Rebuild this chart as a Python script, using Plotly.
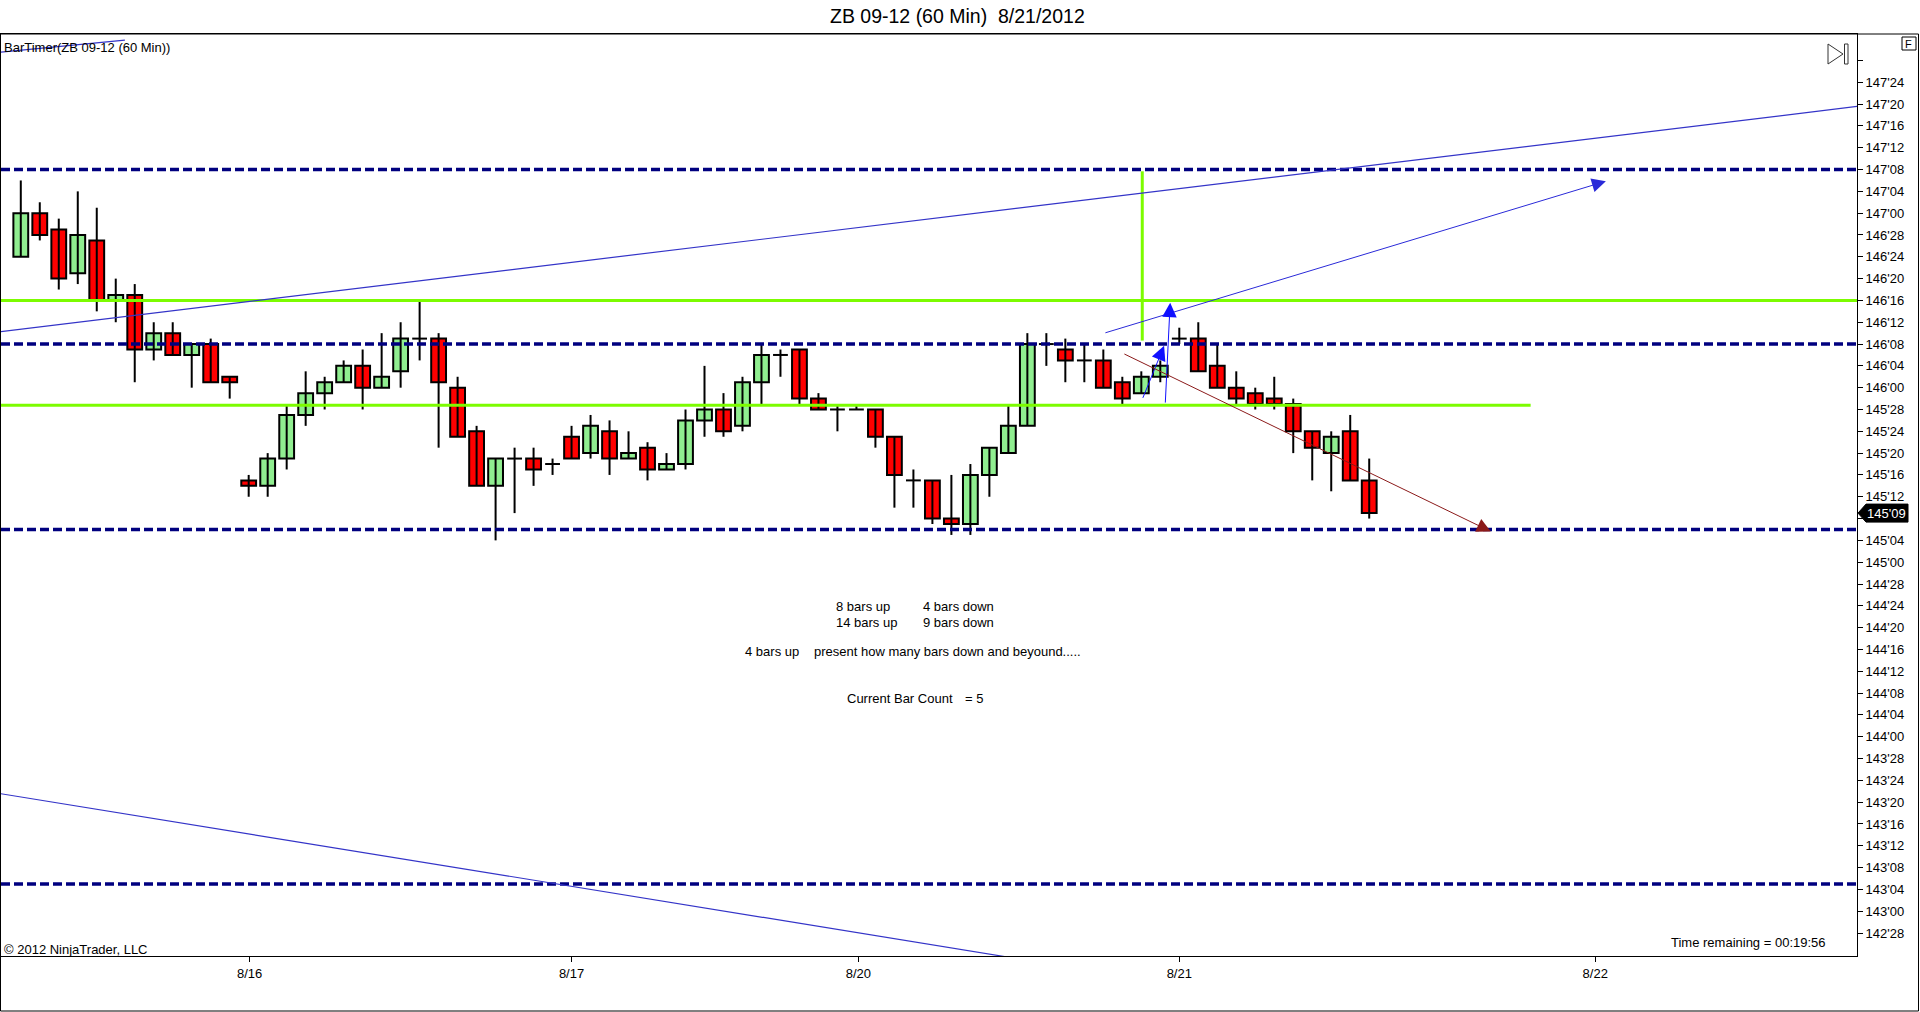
import plotly.graph_objects as go

# ---------------- data (hourly bars, ZB 09-12) ----------------
opens = [146.75, 147.0, 146.90625, 146.65625, 146.84375, 146.5, 146.53125, 146.21875, 146.3125, 146.1875,
         146.25, 146.0625, 145.46875, 145.4375, 145.59375, 145.84375, 145.96875, 146.03125, 146.125, 146.0,
         146.09375, 146.28125, 146.28125, 146.0, 145.75, 145.4375, 145.59375, 145.59375, 145.5625, 145.71875,
         145.625, 145.75, 145.59375, 145.65625, 145.53125, 145.5625, 145.8125, 145.875, 145.78125, 146.03125,
         146.1875, 146.21875, 145.9375, 145.875, 145.875, 145.875, 145.71875, 145.46875, 145.46875, 145.25,
         145.21875, 145.5, 145.625, 145.78125, 146.25, 146.21875, 146.15625, 146.15625, 146.03125, 145.96875,
         146.0625, 146.28125, 146.28125, 146.125, 146.0, 145.96875, 145.9375, 145.90625, 145.75, 145.625,
         145.75, 145.46875]
highs = [147.1875, 147.0625, 146.96875, 147.125, 147.03125, 146.625, 146.59375, 146.375, 146.375, 146.25,
         146.28125, 146.0625, 145.5, 145.625, 145.90625, 146.09375, 146.0625, 146.15625, 146.21875, 146.3125,
         146.375, 146.5, 146.3125, 146.0625, 145.78125, 145.59375, 145.65625, 145.65625, 145.59375, 145.78125,
         145.84375, 145.8125, 145.75, 145.6875, 145.625, 145.875, 146.125, 145.96875, 146.0625, 146.25,
         146.21875, 146.21875, 145.96875, 145.90625, 145.90625, 145.875, 145.71875, 145.53125, 145.46875, 145.5,
         145.5625, 145.65625, 145.90625, 146.3125, 146.3125, 146.28125, 146.25, 146.21875, 146.0625, 146.09375,
         146.15625, 146.34375, 146.375, 146.25, 146.09375, 146.0, 146.0625, 145.9375, 145.75, 145.75,
         145.84375, 145.59375]
lows = [146.75, 146.84375, 146.5625, 146.59375, 146.4375, 146.375, 146.03125, 146.15625, 146.1875, 146.0,
        146.03125, 145.9375, 145.375, 145.375, 145.53125, 145.78125, 145.875, 146.03125, 145.875, 146.0,
        146.0, 146.15625, 145.65625, 145.71875, 145.4375, 145.125, 145.28125, 145.4375, 145.5, 145.59375,
        145.59375, 145.5, 145.59375, 145.46875, 145.53125, 145.53125, 145.71875, 145.71875, 145.75, 145.90625,
        146.0625, 145.90625, 145.875, 145.75, 145.875, 145.65625, 145.3125, 145.3125, 145.21875, 145.15625,
        145.15625, 145.375, 145.625, 145.78125, 146.125, 146.03125, 146.03125, 146.0, 145.90625, 145.96875,
        146.03125, 146.25, 146.09375, 146.0, 145.90625, 145.875, 145.875, 145.625, 145.46875, 145.40625,
        145.46875, 145.25]
closes = [147.0, 146.875, 146.625, 146.875, 146.5, 146.53125, 146.21875, 146.3125, 146.1875, 146.25,
          146.03125, 146.03125, 145.4375, 145.59375, 145.84375, 145.96875, 146.03125, 146.125, 146.0, 146.0625,
          146.28125, 146.28125, 146.03125, 145.71875, 145.4375, 145.59375, 145.59375, 145.53125, 145.5625, 145.59375,
          145.78125, 145.59375, 145.625, 145.53125, 145.5625, 145.8125, 145.875, 145.75, 146.03125, 146.1875,
          146.1875, 145.9375, 145.875, 145.875, 145.875, 145.71875, 145.5, 145.46875, 145.25, 145.21875,
          145.5, 145.65625, 145.78125, 146.25, 146.25, 146.15625, 146.15625, 146.0, 145.9375, 146.0625,
          146.125, 146.28125, 146.09375, 146.0, 145.9375, 145.90625, 145.90625, 145.75, 145.65625, 145.71875,
          145.46875, 145.28125]

date_ticks = [12.05, 29.0, 44.1, 61.0, 82.9]
date_labels = ["8/16", "8/17", "8/20", "8/21", "8/22"]

# drawn objects (bar index, price)
dashed_levels = [147.25, 146.25, 145.1875, 143.15625]
green_levels = [146.5, 145.90]
green_level_ends = [None, 79.5]
green_vert_x = 59.05
green_vert_y = [146.27, 147.24]
trend_lines = [
    ([-1.1, 96.8], [146.321, 147.613]),
    ([-1.1, 51.8], [143.674, 142.740]),
    ([-1.1, 5.48], [147.922, 147.992]),
]
arrows = [
    ((57.03, 146.312), (83.46, 147.183), "#2a2ad8", 1.0, 2.8),
    ((59.05, 145.933), (60.20, 146.240), "#1010ff", 1.0, 2.9),
    ((60.26, 145.906), (60.52, 146.487), "#1010ff", 1.0, 2.9),
    ((58.03, 146.197), (77.40, 145.176), "#8b1a1a", 1.0, 2.8),
]

# ---------------- geometry ----------------
W, H = 1920, 1012
PL, PR, PT, PB = 1, 1857, 34, 956
XR = [-1.042, 96.684]
YR = [142.7432, 148.0268]
FONT = "Arial, Liberation Sans, sans-serif"


def X(px):
    return (px - PL) / (PR - PL)


def Y(py):
    return (PB - py) / (PB - PT)


def price_paper(p):
    return (p - YR[0]) / (YR[1] - YR[0])


def fmt(p):
    w = int(p // 1)
    n = int(round((p - w) * 32))
    if n == 32:
        w, n = w + 1, 0
    return f"{w}'{n:02d}"


idx = list(range(len(opens)))
fig = go.Figure()

# wicks
wx, wy = [], []
for i in idx:
    wx += [i, i, None]
    wy += [lows[i], highs[i], None]
fig.add_trace(go.Scatter(x=wx, y=wy, mode="lines", line=dict(color="black", width=2),
                         hoverinfo="skip", showlegend=False))

# bodies
BW = 0.78
for up, col in [(True, "#90ee90"), (False, "#ff0000")]:
    xs, bases, hs = [], [], []
    for i in idx:
        o, c = opens[i], closes[i]
        if o == c:
            continue
        if (c > o) == up:
            xs.append(i)
            bases.append(min(o, c))
            hs.append(abs(c - o))
    fig.add_trace(go.Bar(x=xs, y=hs, base=bases, width=BW,
                         marker=dict(color=col, line=dict(color="black", width=2)),
                         hoverinfo="skip", showlegend=False))

# doji crosses
dx, dy = [], []
for i in idx:
    if opens[i] == closes[i]:
        dx += [i - BW / 2, i + BW / 2, None]
        dy += [opens[i], opens[i], None]
fig.add_trace(go.Scatter(x=dx, y=dy, mode="lines", line=dict(color="black", width=2),
                         hoverinfo="skip", showlegend=False))

shapes = []
for lv in dashed_levels:
    shapes.append(dict(type="line", xref="paper", yref="y", x0=0, x1=1, y0=lv, y1=lv,
                       line=dict(color="#00007f", width=3.5, dash="9px,4px")))
for lv, end in zip(green_levels, green_level_ends):
    shapes.append(dict(type="line", xref="x", yref="y", x0=XR[0], x1=(end if end is not None else XR[1]),
                       y0=lv, y1=lv, line=dict(color="#7cfc00", width=3)))
shapes.append(dict(type="line", xref="x", yref="y", x0=green_vert_x, x1=green_vert_x,
                   y0=green_vert_y[0], y1=green_vert_y[1], line=dict(color="#7cfc00", width=3)))
for xs_, ys_ in trend_lines:
    shapes.append(dict(type="line", xref="x", yref="y", x0=xs_[0], x1=xs_[1], y0=ys_[0], y1=ys_[1],
                       line=dict(color="#3434c8", width=1.2)))

# outer frame / borders
shapes.append(dict(type="rect", xref="paper", yref="paper", x0=X(0.5), x1=X(1918.5), y0=Y(1011), y1=Y(PT),
                   line=dict(color="black", width=1), fillcolor="rgba(0,0,0,0)"))

# last price marker
lp = closes[-1]
lpy = price_paper(lp)
hh = 9 / (PB - PT)
shapes.append(dict(type="path", xref="paper", yref="paper",
                   path=f"M {X(1858)},{lpy} L {X(1866)},{lpy + hh} L {X(1908)},{lpy + hh} "
                        f"L {X(1908)},{lpy - hh} L {X(1866)},{lpy - hh} Z",
                   fillcolor="black", line=dict(color="black", width=1)))

# "F" box and play-to-end icon
shapes.append(dict(type="rect", xref="paper", yref="paper", x0=X(1902), x1=X(1916), y0=Y(50), y1=Y(37),
                   line=dict(color="black", width=1), fillcolor="white"))
shapes.append(dict(type="path", xref="paper", yref="paper",
                   path=f"M {X(1828)},{Y(44)} L {X(1843)},{Y(54)} L {X(1828)},{Y(64)} Z",
                   line=dict(color="#333333", width=1), fillcolor="white"))
shapes.append(dict(type="rect", xref="paper", yref="paper", x0=X(1844.5), x1=X(1848), y0=Y(64), y1=Y(44),
                   line=dict(color="#333333", width=1), fillcolor="white"))

annotations = []
for (x0, y0), (x1, y1), col, w, s in arrows:
    annotations.append(dict(x=x1, y=y1, ax=x0, ay=y0, xref="x", yref="y", axref="x", ayref="y",
                            text="", showarrow=True, arrowhead=2, arrowsize=s, arrowwidth=w,
                            arrowcolor=col, standoff=0, startstandoff=0))


def txt(t, px, py, size=13, anchor="left", color="black"):
    annotations.append(dict(text=t, x=X(px), y=Y(py), xref="paper", yref="paper", showarrow=False,
                            xanchor=anchor, yanchor="middle", font=dict(family=FONT, size=size, color=color)))


txt("ZB 09-12 (60 Min)\u00a0\u00a08/21/2012", 957, 16, size=19.5, anchor="center")
txt("BarTimer(ZB 09-12 (60 Min))", 2, 48)
txt("© 2012 NinjaTrader, LLC", 2, 949)
txt("Time remaining = 00:19:56", 1828, 942, anchor="right")
txt("8 bars up", 834, 606)
txt("4 bars down", 921, 606)
txt("14 bars up", 834, 622)
txt("9 bars down", 921, 622)
txt("4 bars up", 743, 651)
txt("present how many bars down and beyound.....", 812, 651)
txt("Current Bar Count", 845, 698)
txt("= 5", 963, 698)
txt("F", 1909, 43.5, size=11, anchor="center")
annotations.append(dict(text=fmt(lp), x=X(1887), y=lp, xref="paper", yref="y", showarrow=False,
                        xanchor="center", yanchor="middle", font=dict(family=FONT, size=13, color="white")))

ytick_vals = [142.875 + 0.125 * k for k in range(41)]
ytick_text = ["" if (v > 147.8 or abs(v - lp) < 0.06) else fmt(v) for v in ytick_vals]

fig.update_layout(
    width=W, height=H, autosize=False,
    margin=dict(l=PL, r=W - PR, t=PT, b=H - PB, pad=0),
    paper_bgcolor="white", plot_bgcolor="white",
    barmode="overlay", showlegend=False,
    shapes=shapes, annotations=annotations,
    font=dict(family=FONT, size=13, color="black"),
    xaxis=dict(range=XR, tickvals=date_ticks, ticktext=date_labels, ticks="outside", ticklen=5,
               tickcolor="black", showline=True, linecolor="black", linewidth=1, mirror=True,
               showgrid=False, zeroline=False, tickfont=dict(family=FONT, size=13, color="black")),
    yaxis=dict(range=YR, side="right", tickvals=ytick_vals, ticktext=ytick_text, ticks="outside",
               ticklen=5, tickcolor="black", showline=True, linecolor="black", linewidth=1, mirror=True,
               showgrid=False, zeroline=False, tickfont=dict(family=FONT, size=13, color="black")),
)

fig.write_html("out.html", config={"displayModeBar": False},
               post_script="document.body.style.margin='0';")
